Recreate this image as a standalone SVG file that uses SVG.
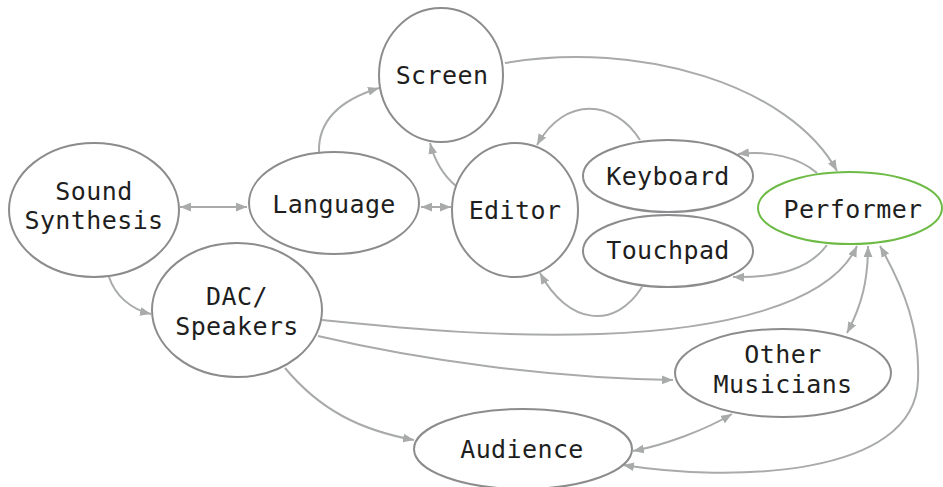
<svg xmlns="http://www.w3.org/2000/svg" width="943" height="487" viewBox="0 0 943 487">
<defs>
<marker id="ah" viewBox="0 0 10 8" refX="10" refY="4" markerWidth="11" markerHeight="9" markerUnits="userSpaceOnUse" orient="auto-start-reverse">
<path d="M0,0 L10,4 L0,8 z" fill="#a9abab"/>
</marker>
<style>
.node ellipse{fill:#fff;stroke:#8c8c8e;stroke-width:2}
.node text{font-family:"DejaVu Sans Mono","Liberation Mono",monospace;font-size:25px;fill:#1e1e1e;text-anchor:middle;letter-spacing:0.4px}
#edges path{fill:none;stroke:#a9abab;stroke-width:2}
.e{marker-end:url(#ah)}
.b{marker-start:url(#ah);marker-end:url(#ah)}
</style>
</defs>
<rect width="943" height="487" fill="#fff"/>
<g id="edges">
<path class="b" d="M180,207 L247,207"/>
<path class="b" d="M421,207 L451,207"/>
<path class="e" d="M319,152 C318,120 340,100 379,88"/>
<path class="e" d="M456,186 C444,176 435,162 430,143"/>
<path class="e" d="M505,63 C640,40 790,85 837,171"/>
<path class="e" d="M640,140 C615,100 565,95 537,145"/>
<path class="e" d="M642,287 C615,330 568,325 540,273"/>
<path class="e" d="M817,173 C800,158 770,150 738,154"/>
<path class="e" d="M827,245 C810,268 780,278 733,277"/>
<path class="e" d="M322,320 C420,330 500,337 600,334 C720,330 830,305 857,246"/>
<path class="e" d="M318,336 C420,360 550,378 673,380"/>
<path class="e" d="M285,368 C320,410 360,430 414,440"/>
<path class="e" d="M109,277 C115,295 130,309 151,314"/>
<path class="b" d="M868,246 C868,280 862,305 847,333"/>
<path class="b" d="M633,451 C665,445 705,430 732,414"/>
<path class="b" d="M880,246 C905,290 920,330 918,380 C915,478 730,482 623,465"/>
</g>
<g id="sound-synthesis" class="node"><ellipse cx="94" cy="210" rx="85" ry="67"/><text x="94" y="200">Sound</text><text x="94" y="229">Synthesis</text></g>
<g id="language" class="node"><ellipse cx="334" cy="203" rx="85" ry="51"/><text x="334" y="213">Language</text></g>
<g id="screen" class="node"><ellipse cx="441" cy="75" rx="62" ry="67"/><text x="442" y="84">Screen</text></g>
<g id="editor" class="node"><ellipse cx="515" cy="210" rx="63" ry="67"/><text x="515" y="219">Editor</text></g>
<g id="keyboard" class="node"><ellipse cx="668" cy="176" rx="85" ry="36"/><text x="668" y="185">Keyboard</text></g>
<g id="touchpad" class="node"><ellipse cx="668" cy="251" rx="85" ry="36"/><text x="668" y="259">Touchpad</text></g>
<g id="performer" class="node"><ellipse cx="850" cy="208" rx="92" ry="36" style="stroke:#6dbb45"/><text x="853" y="218">Performer</text></g>
<g id="dac-speakers" class="node"><ellipse cx="237" cy="310" rx="85" ry="67"/><text x="237" y="305">DAC/</text><text x="237" y="335">Speakers</text></g>
<g id="other-musicians" class="node"><ellipse cx="783" cy="373" rx="108" ry="44"/><text x="783" y="363">Other</text><text x="783" y="393">Musicians</text></g>
<g id="audience" class="node"><ellipse cx="523" cy="449" rx="109" ry="40"/><text x="522" y="458">Audience</text></g>
</svg>
